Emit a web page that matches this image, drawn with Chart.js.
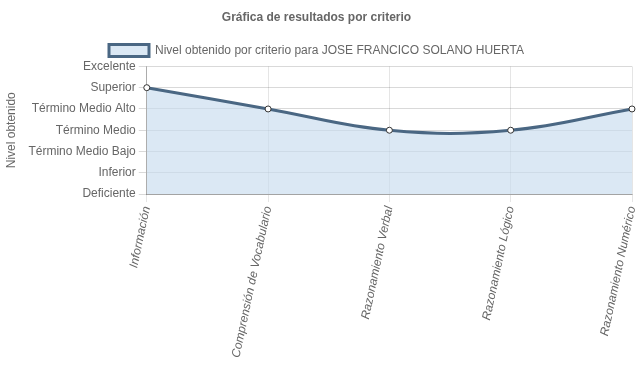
<!DOCTYPE html>
<html><head><meta charset="utf-8">
<script src="https://cdn.jsdelivr.net/npm/chart.js@4/dist/chart.umd.min.js"></script>
<style>html,body{margin:0;padding:0;background:#fff}#wrap{width:637px;height:389px}</style>
</head><body><div id="wrap"><canvas id="c" width="637" height="389"></canvas></div>
<script>
const categories = ["Información","Comprensión de Vocabulario","Razonamiento Verbal","Razonamiento Lógico","Razonamiento Numérico"];
const levelLabels = ["Deficiente","Inferior","Término Medio Bajo","Término Medio","Término Medio Alto","Superior","Excelente"];
const seriesLabel = "Nivel obtenido por criterio para JOSE FRANCICO SOLANO HUERTA";
const seriesValues = [5, 4, 3, 3, 4];

Chart.defaults.font.family = "'Liberation Sans', Arial, Helvetica, sans-serif";
Chart.defaults.font.size = 12;
Chart.defaults.color = "#666";

new Chart(document.getElementById('c'), {
  type: 'line',
  data: {
    labels: categories,
    datasets: [{
      label: seriesLabel,
      data: seriesValues,
      borderColor: '#4a6783',
      backgroundColor: 'rgba(200,220,238,0.65)',
      borderWidth: 3,
      fill: 'origin',
      tension: 0.4,
      pointRadius: 3,
      pointBorderWidth: 1,
      pointBackgroundColor: '#fff',
      pointBorderColor: '#333'
    }]
  },
  options: {
    responsive: false,
    animation: false,
    layout: {padding: {left: 0, right: 4, top: 0, bottom: 27}},
    plugins: {
      title: {display: true, text: 'Gráfica de resultados por criterio', font: {weight: 'bold', size: 12}, color: '#666', padding: {top: 10, bottom: 10}},
      legend: {display: true, labels: {boxWidth: 40, boxHeight: 12, font: {size: 12}, color: '#666', padding: 10}},
      tooltip: {enabled: false}
    },
    scales: {
      x: {
        grid: {color: 'rgba(0,0,0,0.1)', tickLength: 8},
        border: {color: 'rgba(0,0,0,0.25)'},
        ticks: {minRotation: 78, maxRotation: 78, font: {style: 'italic', size: 12}, color: '#666'},
        afterFit: s => { s.paddingRight = 0; }
      },
      y: {
        min: 0, max: 6,
        grid: {color: 'rgba(0,0,0,0.15)', tickLength: 8},
        border: {color: 'rgba(0,0,0,0.25)'},
        title: {display: true, text: 'Nivel obtenido', color: '#666', font: {size: 12}, padding: {top: 4, bottom: 7}},
        ticks: {stepSize: 1, color: '#666', callback: v => levelLabels[v]}
      }
    }
  }
});
</script></body></html>
